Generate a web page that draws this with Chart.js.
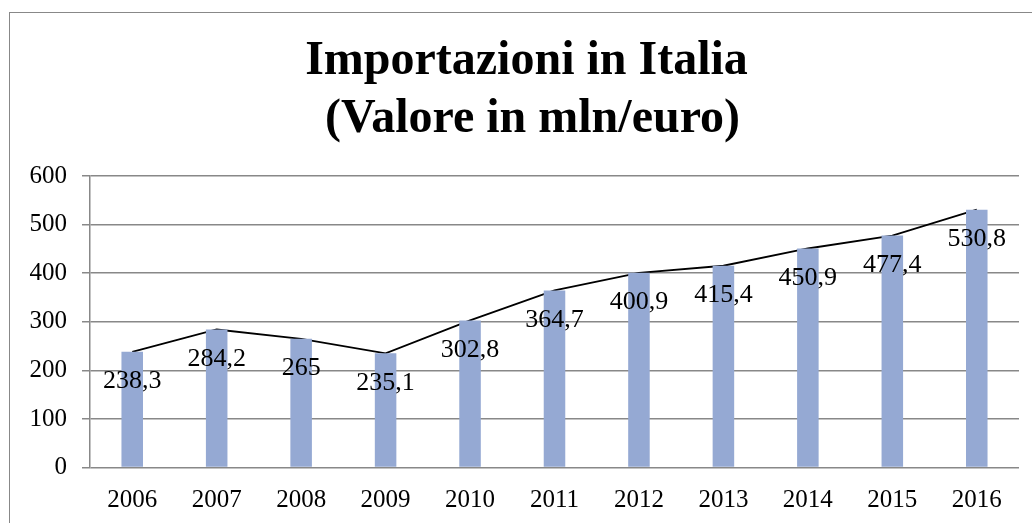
<!DOCTYPE html>
<html>
<head>
<meta charset="utf-8">
<script src="https://cdn.jsdelivr.net/npm/chart.js@4/dist/chart.umd.min.js"></script>
<style>
  html, body { margin: 0; padding: 0; background: #fff; overflow: hidden; width: 1032px; height: 523px; }
  #wrap { position: relative; width: 1032px; height: 523px; overflow: hidden; }
  #frame { position: absolute; left: 9px; top: 12px; width: 1100px; height: 600px;
           border-left: 1.5px solid #888; border-top: 1.5px solid #888; box-sizing: border-box; }
  canvas { position: absolute; left: 0; top: 0; }
</style>
</head>
<body>
<div id="wrap">
  <div id="frame"></div>
  <canvas id="c" width="1043" height="523" style="width:1043px;height:523px"></canvas>
</div>
<script>
const categories = ['2006','2007','2008','2009','2010','2011','2012','2013','2014','2015','2016'];
const values = [238.3, 284.2, 265, 235.1, 302.8, 364.7, 400.9, 415.4, 450.9, 477.4, 530.8];
const valueLabels = ['238,3','284,2','265','235,1','302,8','364,7','400,9','415,4','450,9','477,4','530,8'];
const titleLines = ['Importazioni in Italia', ' (Valore in mln/euro)'];
const yTicks = [0, 100, 200, 300, 400, 500, 600];

const SERIF = "'Liberation Serif', 'Times New Roman', Times, serif";

const labelPlugin = {
  id: 'valueLabels',
  afterDatasetsDraw(chart) {
    const meta = chart.getDatasetMeta(0);
    const ctx = chart.ctx;
    ctx.save();
    ctx.font = '26px ' + SERIF;
    ctx.fillStyle = '#000';
    ctx.textAlign = 'center';
    ctx.textBaseline = 'middle';
    meta.data.forEach((el, i) => {
      ctx.fillText(valueLabels[i], el.x, el.y + 29.5);
    });
    ctx.restore();
  }
};

new Chart(document.getElementById('c'), {
  data: {
    labels: categories,
    datasets: [
      {
        type: 'bar',
        data: values,
        backgroundColor: '#95a9d3',
        borderWidth: 0,
        categoryPercentage: 0.255,
        barPercentage: 1,
        order: 0
      },
      {
        type: 'line',
        data: values,
        borderColor: '#000',
        borderWidth: 1.8,
        pointRadius: 0,
        tension: 0,
        fill: false,
        order: 1
      }
    ]
  },
  options: {
    responsive: false,
    animation: false,
    events: [],
    layout: { padding: { left: 10, right: 0, top: 0, bottom: 0 } },
    plugins: {
      legend: { display: false },
      tooltip: { enabled: false },
      title: {
        display: true,
        text: titleLines,
        color: '#000',
        font: { family: SERIF, size: 48, weight: 'bold', lineHeight: 1.215 },
        padding: { top: 32, bottom: 27.4 }
      }
    },
    scales: {
      x: {
        grid: { display: false, drawTicks: false },
        border: { display: false },
        ticks: { color: '#000', font: { family: SERIF, size: 25 }, padding: 18, maxRotation: 0, autoSkip: false },
        afterFit(scale) { scale.height = 55.4; }
      },
      y: {
        min: 0, max: 600,
        afterBuildTicks(scale) { scale.ticks = yTicks.map(v => ({ value: v })); },
        afterFit(scale) { scale.width = 80; },
        grid: { color: '#888', lineWidth: 1.5, tickLength: 8, drawTicks: true },
        border: { display: true, color: '#888', width: 1.5 },
        ticks: { color: '#000', font: { family: SERIF, size: 25 }, padding: 15 }
      },
      yR: {
        position: 'right',
        display: true,
        grid: { display: false, drawTicks: false },
        border: { display: false },
        ticks: { display: false },
        afterFit(scale) { scale.width = 24; }
      }
    }
  },
  plugins: [labelPlugin]
});
</script>
</body>
</html>
